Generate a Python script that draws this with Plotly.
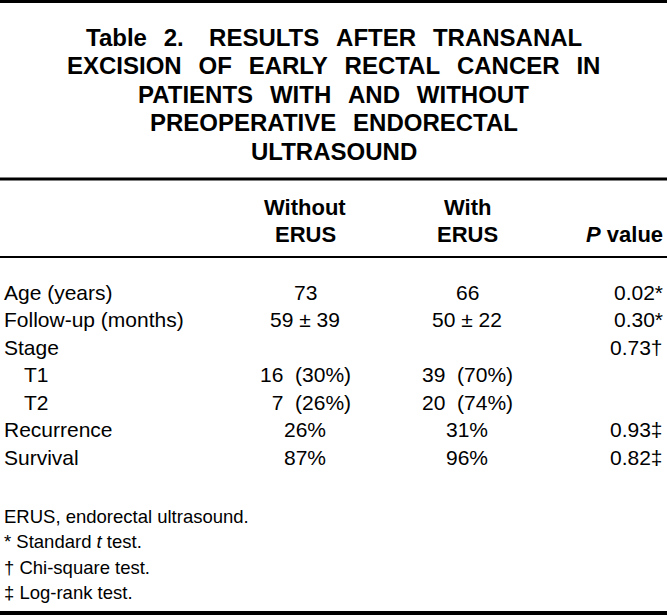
import plotly.graph_objects as go

# ---- data ----
title_lines = [
    "Table 2.   RESULTS AFTER TRANSANAL",
    "EXCISION OF EARLY RECTAL CANCER IN",
    "PATIENTS WITH AND WITHOUT",
    "PREOPERATIVE ENDORECTAL",
    "ULTRASOUND",
]
header_without = ["Without", "ERUS"]
header_with = ["With", "ERUS"]
header_p = ["", "<i>P</i> value"]

row_labels = ["Age (years)", "Follow-up (months)", "Stage", "T1", "T2", "Recurrence", "Survival"]
row_indent = [0, 0, 0, 1, 1, 0, 0]
without_erus = ["73", "59 \u00b1 39", "", "16\u00a0\u00a0(30%)", "\u20077\u00a0\u00a0(26%)", "26%", "87%"]
with_erus = ["66", "50 \u00b1 22", "", "39\u00a0\u00a0(70%)", "20\u00a0\u00a0(74%)", "31%", "96%"]
p_values = ["0.02*", "0.30*", "0.73\u2020", "", "", "0.93\u2021", "0.82\u2021"]

footnotes = [
    "ERUS, endorectal ultrasound.",
    "* Standard <i>t</i> test.",
    "\u2020 Chi-square test.",
    "\u2021 Log-rank test.",
]

# ---- layout constants ----
W, H = 667, 615
FONT = "Liberation Sans, Arial, sans-serif"
title_y0, title_step = 37, 28.5
header_y = [207, 234]
body_y0, body_step = 292, 27.5
foot_y0, foot_step = 516, 25.5
x_label, x_indent = 2, 22
x_c1, x_c2, x_p = 305, 467, 665
WORD_GAP = "\u2002\u2009"   # wider word spacing used in the title
BIG_GAP = "\u00a0\u00a0\u2002"


def space_title(s):
    parts = s.split("   ")
    parts = [WORD_GAP.join(p.split(" ")) for p in parts]
    return BIG_GAP.join(parts)


fig = go.Figure()
ann = []


def add(text, x, y, size, xanchor="center", bold=False):
    if bold and text:
        text = "<b>" + text + "</b>"
    ann.append(dict(text=text, x=x, y=y, xref="x", yref="y", xanchor=xanchor,
                    yanchor="middle", showarrow=False,
                    font=dict(family=FONT, size=size, color="black")))


for i, t in enumerate(title_lines):
    add(space_title(t), W / 2, title_y0 + i * title_step, 24, bold=True)

for i in range(2):
    add(header_without[i], x_c1, header_y[i], 22, bold=True)
    add(header_with[i], x_c2, header_y[i], 22, bold=True)
    if header_p[i]:
        add(header_p[i], x_p, header_y[i], 22, xanchor="right", bold=True)

for i, lab in enumerate(row_labels):
    y = body_y0 + i * body_step
    add(lab, x_indent if row_indent[i] else x_label, y, 21, xanchor="left")
    if without_erus[i]:
        add(without_erus[i], x_c1, y, 21)
    if with_erus[i]:
        add(with_erus[i], x_c2, y, 21)
    if p_values[i]:
        add(p_values[i], x_p, y, 21, xanchor="right")

for i, f in enumerate(footnotes):
    add(f, x_label, foot_y0 + i * foot_step, 18.5, xanchor="left")

rules = [(1.5, 3), (179, 3), (257, 2), (613, 4)]
shapes = [dict(type="line", xref="x", yref="y", x0=0, x1=W, y0=y, y1=y,
               line=dict(color="black", width=w)) for y, w in rules]

fig.update_layout(
    width=W, height=H, margin=dict(l=0, r=0, t=0, b=0),
    paper_bgcolor="white", plot_bgcolor="white",
    xaxis=dict(range=[0, W], visible=False, fixedrange=True),
    yaxis=dict(range=[H, 0], visible=False, fixedrange=True),
    annotations=ann, shapes=shapes, showlegend=False,
)

fig.write_html("out.html", config={"displayModeBar": False},
               post_script="document.body.style.margin='0';")
